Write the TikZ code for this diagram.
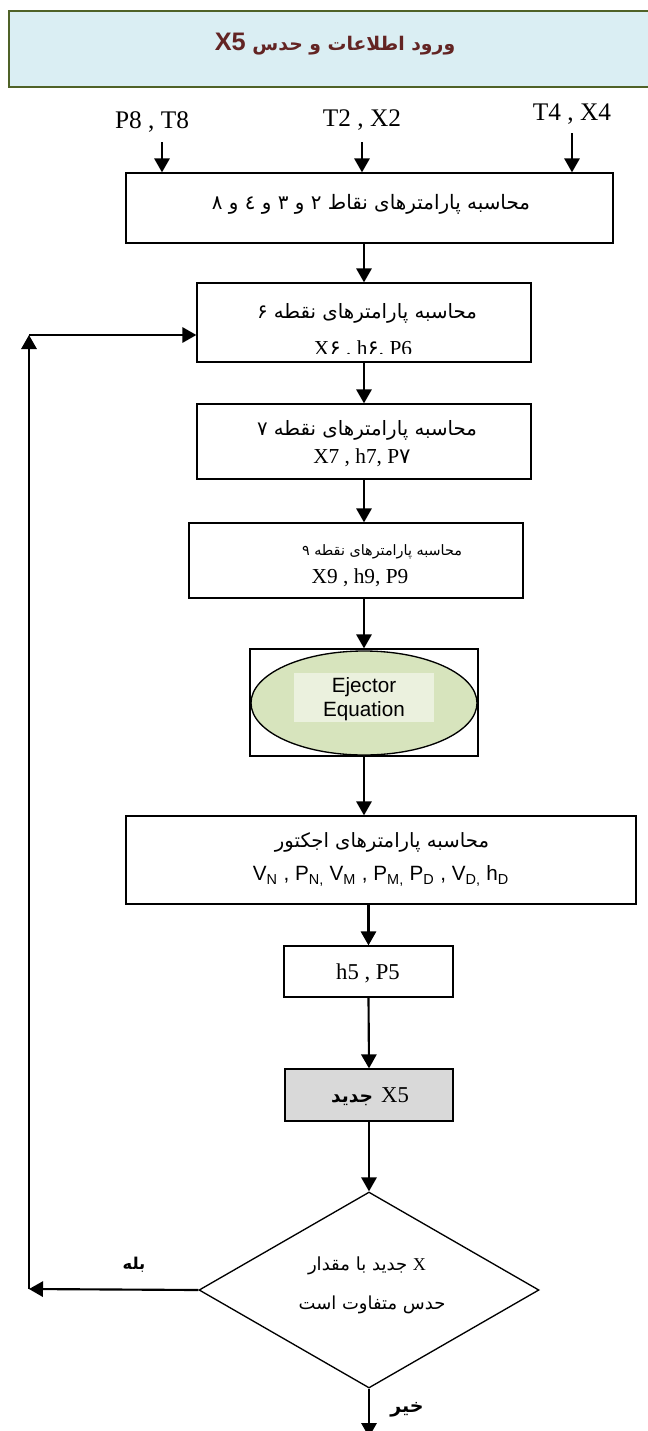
\documentclass[tikz,border=0pt]{standalone}
\usepackage{fontspec}
\usepackage{graphicx}
\setmainfont{Liberation Serif}
\setsansfont{Liberation Sans}
\newfontfamily\ar[Script=Arabic]{DejaVu Sans}
\TeXXeTstate=1
\usetikzlibrary{shapes.geometric,arrows.meta}
\definecolor{titlefill}{HTML}{DAEEF3}
\definecolor{titledraw}{HTML}{4F6228}
\definecolor{titletext}{HTML}{632423}
\definecolor{ellfill}{HTML}{D7E4BD}
\definecolor{innerfill}{HTML}{EBF1DE}
\definecolor{greyfill}{HTML}{D9D9D9}
\newcommand\PX[1]{#1*0.75pt}
\begin{document}
\begin{tikzpicture}[x=0.75pt,y=-0.75pt,
  box/.style={draw=black, line width=1pt, inner sep=0pt},
  arr/.style={line width=1.6pt, -{Triangle[length=10.5pt,width=11.5pt]}},
  txt/.style={inner sep=0pt},
  lat/.style={inner sep=0pt, font=\fontsize{16}{18}\selectfont},
  big/.style={inner sep=0pt, font=\fontsize{19}{21}\selectfont},
  ]
\useasboundingbox (0,0) rectangle (648,1431);
% title
\node[draw=titledraw, fill=titlefill, line width=1.6pt, inner sep=0pt,
      minimum width=\PX{661}, minimum height=\PX{76}] (title) at (339.5,49) {};
\node[txt, text=titletext] (ttext) at (335,44)
  {{\sffamily\bfseries\fontsize{19}{21}\selectfont X5}\hspace{5pt}\resizebox{152pt}{!}{\ar\bfseries\beginR ورود اطلاعات و حدس\endR}};
% inputs
\node[big] (l8) at (152,122) {P8 , T8};
\node[big] (l2) at (362,120) {T2 , X2};
\node[big] (l4) at (572,114) {T4 , X4};
% box 1
\node[box, minimum width=\PX{487}, minimum height=\PX{70}] (b1) at (369.5,208) {};
\node[txt] (t1) at (371,204) {\resizebox{238.5pt}{!}{\ar\beginR محاسبه پارامترهای نقاط ۲ و ۳ و ٤ و ۸\endR}};
\coordinate (i8) at (162,142);
\coordinate (i2) at (362,142);
\coordinate (i4) at (572,133);
\draw[arr] (i8) -- (i8 |- b1.north);
\draw[arr] (i2) -- (i2 |- b1.north);
\draw[arr] (i4) -- (i4 |- b1.north);
% box 2
\node[box, minimum width=\PX{334}, minimum height=\PX{79}] (b2) at (364,322.5) {};
\node[txt] (t2a) at (367,313) {\resizebox{165pt}{!}{\ar\beginR محاسبه پارامترهای نقطه ۶\endR}};
\begin{scope}
  \clip (198,284) rectangle (530,353);
  \node[lat] (t2b) at (363,350) {X{\ar ۶} , h{\ar ۶}, P6};
\end{scope}
\draw[arr] (b2.north |- b1.south) -- (b2.north);
% box 3
\node[box, minimum width=\PX{334}, minimum height=\PX{75}] (b3) at (364,441.5) {};
\node[txt] (t3a) at (367,430) {\resizebox{165pt}{!}{\ar\beginR محاسبه پارامترهای نقطه ۷\endR}};
\node[lat] (t3b) at (362,458) {X7 , h7, P{\ar ۷}};
\draw[arr] (b2.south) -- (b3.north);
% box 4
\node[box, minimum width=\PX{334}, minimum height=\PX{75}] (b4) at (356,560.5) {};
\node[txt] (t4a) at (382,552) {\resizebox{120pt}{!}{\ar\beginR محاسبه پارامترهای نقطه ۹\endR}};
\node[lat] (t4b) at (360,578) {X9 , h9, P9};
\draw[arr] (b3.south) -- (b3.south |- b4.north);
% ejector
\node[box, minimum width=\PX{228}, minimum height=\PX{107}] (frame) at (364,702.5) {};
\node[draw=black, line width=1pt, fill=ellfill, ellipse, inner sep=0pt,
      minimum width=\PX{226}, minimum height=\PX{104}] (ell) at (364,703) {};
\node[fill=innerfill, inner sep=0pt, minimum width=\PX{140}, minimum height=\PX{49}] (inn) at (364,697.5) {};
\node[txt, align=center, font=\sffamily\fontsize{15.5}{17.5}\selectfont] (ej) at (364,699) {Ejector\\Equation};
\draw[arr] (frame.north |- b4.south) -- (frame.north);
% box 5
\node[box, minimum width=\PX{510}, minimum height=\PX{88}] (b5) at (381,860) {};
\node[txt] (t5a) at (382,842) {\resizebox{160.5pt}{!}{\ar\beginR محاسبه پارامترهای اجکتور\endR}};
\node[txt, font=\sffamily\fontsize{15.5}{18}\selectfont] (t5b) at (381,876)
  {V\textsubscript{N} , P\textsubscript{N,} V\textsubscript{M} , P\textsubscript{M,} P\textsubscript{D} , V\textsubscript{D,} h\textsubscript{D}};
\draw[arr] (frame.south) -- (frame.south |- b5.north);
% box 6
\node[box, minimum width=\PX{169}, minimum height=\PX{51}] (b6) at (368.5,971.5) {};
\node[txt, font=\fontsize{17}{19}\selectfont] (t6) at (368,973) {h5 , P5};
\draw[arr] (b6.north |- b5.south) -- (b6.north);
% box 7
\node[box, fill=greyfill, minimum width=\PX{168}, minimum height=\PX{52}] (b7) at (369,1095) {};
\node[txt] (t7) at (370,1097) {\resizebox{31.5pt}{!}{\ar\bfseries\beginR جدید\endR}\hspace{6pt}{\fontsize{17}{19}\selectfont X5}};
\draw[arr] (b6.south) -- (b7.north);
% decision
\node[draw=black, line width=1pt, diamond, inner sep=0pt,
      minimum width=\PX{340}, minimum height=\PX{196}] (dia) at (369,1290) {};
\node[txt] (d1) at (367,1266) {\resizebox{88.5pt}{!}{\ar\beginR{\rmfamily X} جدید با مقدار\endR}};
\node[txt] (d2) at (372,1305) {\resizebox{110pt}{!}{\ar\beginR حدس متفاوت است\endR}};
\draw[arr] (b7.south) -- (dia.north);
% outputs
\coordinate (out) at (369,1437);
\draw[arr] (dia.south) -- (out);
\node[txt] (no) at (407,1410) {\resizebox{25pt}{!}{\ar\bfseries\beginR خیر\endR}};
\coordinate (lpA) at (29,1289);
\coordinate (lpB) at (29,335);
\draw[arr] (dia.west) -- (lpA);
\draw[arr] (lpA) -- (lpB);
\draw[arr] (lpB) -- (lpB -| b2.west);
\node[txt] (yes) at (134,1265) {\resizebox{17pt}{!}{\ar\bfseries\beginR بله\endR}};
\end{tikzpicture}
\end{document}
